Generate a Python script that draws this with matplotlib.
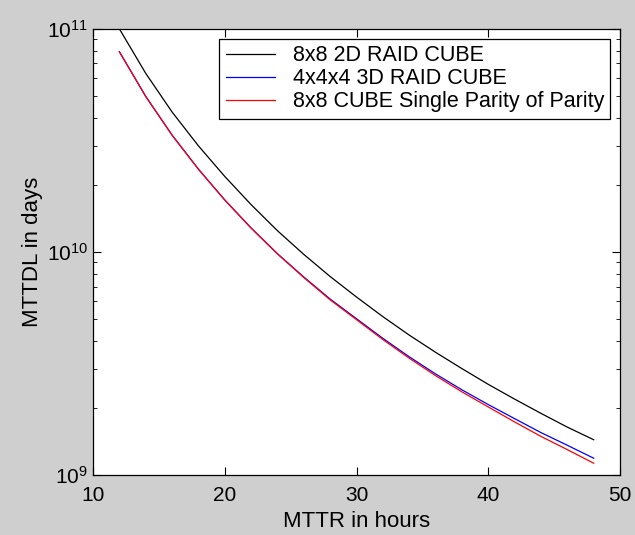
import matplotlib
matplotlib.use("Agg")
import matplotlib.pyplot as plt
from matplotlib.ticker import LogLocator

plt.rcParams['font.family'] = ['Liberation Sans', 'DejaVu Sans']

mttr = [12, 14, 16, 18, 20, 22, 24, 26, 28, 30, 32, 34, 36, 38, 40, 42, 44, 46, 48]
raid2d = [1.0e11, 6.32e10, 4.24e10, 2.99e10, 2.18e10, 1.63e10, 1.245e10, 9.75e9, 7.76e9, 6.28e9,
          5.13e9, 4.24e9, 3.55e9, 3.0e9, 2.55e9, 2.19e9, 1.89e9, 1.64e9, 1.44e9]
raid3d = [7.9e10, 4.98e10, 3.34e10, 2.35e10, 1.71e10, 1.28e10, 9.82e9, 7.72e9, 6.15e9, 5.02e9,
          4.1e9, 3.39e9, 2.84e9, 2.41e9, 2.07e9, 1.79e9, 1.55e9, 1.36e9, 1.19e9]
pop = [7.9e10, 4.98e10, 3.34e10, 2.35e10, 1.71e10, 1.28e10, 9.8e9, 7.68e9, 6.1e9, 4.97e9,
       4.05e9, 3.34e9, 2.79e9, 2.36e9, 2.02e9, 1.73e9, 1.49e9, 1.3e9, 1.13e9]
labels = ['8x8 2D RAID CUBE', '4x4x4 3D RAID CUBE', '8x8 CUBE Single Parity of Parity']

fig = plt.figure(figsize=(6.35, 5.35), dpi=100, facecolor='#cfcfcf')
ax = fig.add_axes([0.1465, 0.112, 0.83, 0.834])
ax.plot(mttr, raid2d, color='black', lw=0.9, label=labels[0])
ax.plot(mttr, raid3d, color='blue', lw=0.9, label=labels[1])
ax.plot(mttr, pop, color='red', lw=0.9, label=labels[2])

ax.set_yscale('log')
ax.set_xlim(10, 50)
ax.set_ylim(1e9, 1e11)
ax.set_xticks([10, 20, 30, 40, 50])
ax.yaxis.set_major_locator(LogLocator(base=10, numticks=5))
ax.tick_params(which='both', direction='in', top=True, right=True, labelsize=15)
ax.tick_params(which='major', length=6)
ax.tick_params(which='minor', length=3)
ax.tick_params(axis='x', pad=8)
for s in ax.spines.values():
    s.set_linewidth(0.9)

ax.set_xlabel('MTTR in hours', fontsize=16, labelpad=4)
ax.set_ylabel('MTTDL in days', fontsize=16, labelpad=3)

leg = ax.legend(loc='upper right', fontsize=15.5, fancybox=False, framealpha=1,
                edgecolor='black', handlelength=2.3, handletextpad=0.8,
                borderaxespad=0.45, labelspacing=0.1, borderpad=0.3)
leg.get_frame().set_linewidth(0.9)

fig.savefig('out.png', dpi=100, facecolor=fig.get_facecolor())
